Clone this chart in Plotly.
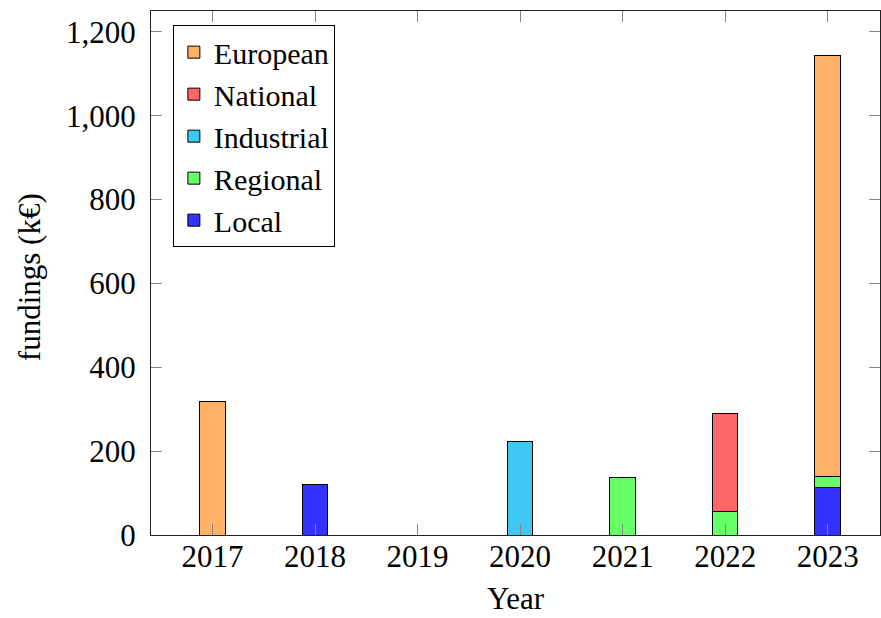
import plotly.graph_objects as go

years = [2017, 2018, 2019, 2020, 2021, 2022, 2023]
local = [0, 121, 0, 0, 0, 0, 114]
regional = [0, 0, 0, 0, 136, 56, 26]
industrial = [0, 0, 0, 223, 0, 0, 0]
national = [0, 0, 0, 0, 0, 233, 0]
european = [318, 0, 0, 0, 0, 0, 1005]
y_ticks = [0, 200, 400, 600, 800, 1000, 1200]

series = [
    ("Local", local, "#3333FF"),
    ("Regional", regional, "#66FF66"),
    ("Industrial", industrial, "#3CC8F0"),
    ("National", national, "#FF6666"),
    ("European", european, "#FFB266"),
]

FONT = "Liberation Serif, Times New Roman, serif"
fig = go.Figure()
for name, vals, col in series:
    fig.add_trace(go.Bar(
        x=years, y=vals, name=name, width=0.25,
        marker=dict(color=col, line=dict(color="black", width=1)),
    ))

fig.update_layout(
    barmode="stack",
    width=881, height=618,
    margin=dict(l=151, r=1, t=11, b=83, autoexpand=False),
    paper_bgcolor="white", plot_bgcolor="white",
    font=dict(family=FONT, size=31, color="black"),
    showlegend=True,
    legend=dict(
        traceorder="reversed",
        x=0.030, y=0.973, xanchor="left", yanchor="top",
        bordercolor="black", borderwidth=1, bgcolor="white",
        font=dict(family=FONT, size=30),
        itemwidth=30, tracegroupgap=0,
    ),
    xaxis=dict(
        range=[2016.4, 2023.51], tickvals=years, ticktext=[str(y) for y in years],
        ticks="inside", ticklen=11, tickcolor="#888888", tickwidth=1,
        showline=True, linecolor="#222222", linewidth=1, mirror="ticks",
        showgrid=False, zeroline=False, ticklabelstandoff=-6, automargin=False,
    ),
    yaxis=dict(
        range=[0, 1250], tickvals=y_ticks, tickformat=",",
        ticks="inside", ticklen=11, tickcolor="#888888", tickwidth=1,
        showline=True, linecolor="#222222", linewidth=1, mirror="ticks",
        showgrid=False, zeroline=False, ticklabelstandoff=8, automargin=False,
    ),
    annotations=[
        dict(text="fundings (k€)", xref="paper", yref="paper", x=0, y=0.492,
             xshift=-122, xanchor="center", yanchor="middle", textangle=-90,
             showarrow=False, font=dict(family=FONT, size=31)),
        dict(text="Year", xref="paper", yref="paper", x=0.5, y=0,
             yshift=-63, xanchor="center", yanchor="middle",
             showarrow=False, font=dict(family=FONT, size=31)),
    ],
)

fig.write_html(
    "out.html",
    config={"displayModeBar": False},
    post_script="document.body.style.margin='0px';document.body.style.overflow='hidden';",
)
